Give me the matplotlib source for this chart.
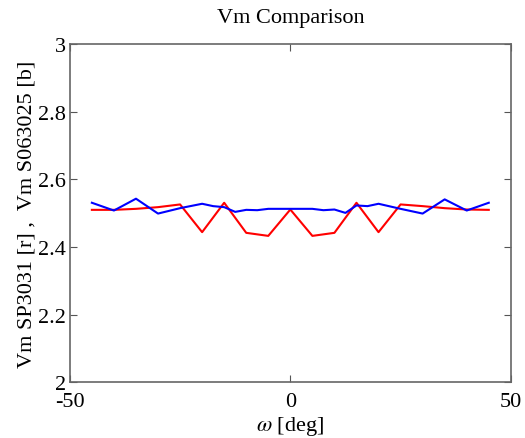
import matplotlib
matplotlib.use('Agg')
import matplotlib.pyplot as plt

plt.rcParams['font.family'] = ['Liberation Serif', 'DejaVu Serif']
plt.rcParams['mathtext.fontset'] = 'stix'
plt.rcParams['axes.unicode_minus'] = False

# red: SP3031, 5 deg steps
w_r = [-45, -40, -35, -30, -25, -20, -15, -10, -5, 0, 5, 10, 15, 20, 25, 30, 35, 40, 45]
vm_r = [2.510, 2.510, 2.513, 2.518, 2.526, 2.444, 2.531, 2.442, 2.433, 2.511,
        2.433, 2.442, 2.531, 2.444, 2.526, 2.521, 2.515, 2.511, 2.510]

# blue: S063025
w_b = [-45, -40, -35, -30, -25, -20, -17.5, -15, -12.5, -10, -7.5, -5, 0,
       5, 7.5, 10, 12.5, 15, 17.5, 20, 25, 30, 35, 40, 45]
vm_b = [2.531, 2.508, 2.543, 2.499, 2.515, 2.528, 2.521, 2.518, 2.504, 2.510, 2.509, 2.513, 2.513,
        2.513, 2.509, 2.511, 2.501, 2.523, 2.521, 2.528, 2.513, 2.499, 2.541, 2.508, 2.531]

fig = plt.figure(figsize=(5.25, 4.39), dpi=100)
ax = fig.add_axes([0.133, 0.127, 0.840, 0.770])
ax.plot(w_r, vm_r, color='#ff0000', lw=1.5)
ax.plot(w_b, vm_b, color='#0000ff', lw=1.5)

ax.set_xlim(-50, 50)
ax.set_ylim(2, 3)
ax.set_xticks([-50, 0, 50])
ax.set_yticks([2, 2.2, 2.4, 2.6, 2.8, 3])
ax.set_yticklabels(['2', '2.2', '2.4', '2.6', '2.8', '3'])
ax.tick_params(direction='in', top=True, right=True, labelsize=16,
               color='#555555', length=5)
ax.tick_params(axis='y', pad=3)
ax.tick_params(axis='x', pad=7)
for s in ax.spines.values():
    s.set_color('#666666')
    s.set_linewidth(1.2)

ax.set_title('Vm Comparison', fontsize=16, pad=16)
ax.set_xlabel(r'$\omega$ [deg]', fontsize=16, labelpad=2)
ax.set_ylabel('Vm SP3031 [r] ,  Vm S063025 [b]', fontsize=16, labelpad=1)

fig.savefig('out.png', dpi=100)
